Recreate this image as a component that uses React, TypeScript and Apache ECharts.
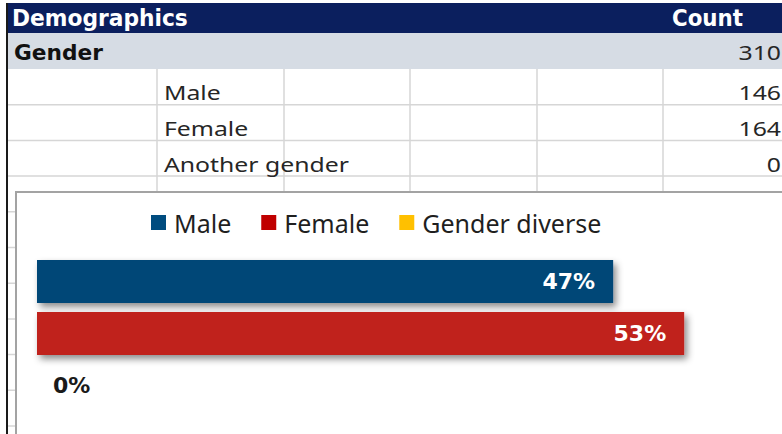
import React, { useEffect, useRef } from 'react';
import * as echarts from 'echarts';

// ---- data ----
const categories = ['Male', 'Female', 'Gender diverse'];
const tableLabels = ['Male', 'Female', 'Another gender'];
const counts = [146, 164, 0];
const headerLabels = ['Demographics', 'Count'];
const groupLabel = 'Gender';
const barColors = ['#034677', '#c0231f', '#ffc000'];
const legendColors = ['#004c7f', '#c00000', '#ffc000'];

const W = 782;
const H = 434;

function fitScale(text: string, font: string, target: number): number {
  const c = document.createElement('canvas').getContext('2d');
  if (!c) return 1;
  c.font = font;
  const w = c.measureText(text).width;
  return w > 0 ? target / w : 1;
}

export default function App() {
  const ref = useRef<HTMLDivElement>(null);

  useEffect(() => {
    if (!ref.current) return;
    const chart = echarts.init(ref.current, undefined, { renderer: 'svg' });
    const total = counts.reduce((a, b) => a + b, 0);
    const pct = counts.map((c) => (c / total) * 100);

    const headFont = 'bold 23px "DejaVu Sans"';
    const groupFont = 'bold 21px "DejaVu Sans"';
    const bodySize = 20;
    const bodyFont = bodySize + 'px "Noto Sans"';
    const bodyScale = fitScale('Another gender', bodyFont, 185);

    const rowTop = 69;
    const pitch = 35.7;
    const lineColor = '#d6d6d6';

    const g: any[] = [];
    // header
    g.push({ type: 'rect', z: -5, shape: { x: 7, y: 3, width: W - 7, height: 30 }, style: { fill: '#0b1f5e' } });
    g.push({ type: 'rect', z: -5, shape: { x: 8, y: 33, width: W - 8, height: 36 }, style: { fill: '#d6dce4' } });
    // horizontal grid lines
    for (let i = 1; i <= 10; i++) {
      const y = rowTop + pitch * i;
      g.push({ type: 'line', z: -5, shape: { x1: 8, y1: y, x2: W, y2: y }, style: { stroke: lineColor, lineWidth: 1.5 } });
    }
    // vertical grid lines
    [157, 284, 410, 537, 663].forEach((x) => {
      g.push({ type: 'line', z: -5, shape: { x1: x, y1: rowTop, x2: x, y2: 195 }, style: { stroke: lineColor, lineWidth: 1.5 } });
    });
    // left dark border
    g.push({ type: 'rect', z: -5, shape: { x: 6, y: 3, width: 2, height: H }, style: { fill: '#1a1a1a' } });
    // chart box
    g.push({ type: 'rect', z: -4, shape: { x: 16, y: 192, width: 900, height: 400 }, style: { fill: '#ffffff', stroke: '#a3a3a3', lineWidth: 2 } });

    // header texts
    g.push({
      type: 'text', z: -3, x: 12, y: 25 - 0.3 * 23,
      scaleX: fitScale(headerLabels[0], headFont, 176),
      style: { text: headerLabels[0], font: headFont, fill: '#ffffff', align: 'left', verticalAlign: 'middle' },
    });
    g.push({
      type: 'text', z: -3, x: 672, y: 25 - 0.3 * 23,
      scaleX: fitScale(headerLabels[1], headFont, 71),
      style: { text: headerLabels[1], font: headFont, fill: '#ffffff', align: 'left', verticalAlign: 'middle' },
    });
    g.push({
      type: 'text', z: -3, x: 14, y: 59 - 0.3 * 21,
      scaleX: fitScale(groupLabel, groupFont, 89),
      style: { text: groupLabel, font: groupFont, fill: '#111111', align: 'left', verticalAlign: 'middle' },
    });
    g.push({
      type: 'text', z: -3, x: 781, y: 58 - 0.3 * bodySize,
      scaleX: bodyScale,
      style: { text: String(total), font: bodyFont, fill: '#262626', align: 'right', verticalAlign: 'middle' },
    });
    tableLabels.forEach((lab, i) => {
      const base = rowTop + pitch * (i + 1) - 6;
      g.push({
        type: 'text', z: -3, x: 164, y: base - 0.3 * bodySize,
        scaleX: bodyScale,
        style: { text: lab, font: bodyFont, fill: '#262626', align: 'left', verticalAlign: 'middle' },
      });
      g.push({
        type: 'text', z: -3, x: 781, y: base - 0.3 * bodySize,
        scaleX: bodyScale,
        style: { text: String(counts[i]), font: bodyFont, fill: '#262626', align: 'right', verticalAlign: 'middle' },
      });
    });

    const series = categories.map((name, i) => ({
      name,
      type: 'bar',
      stack: 'g',
      barWidth: 43,
      data: categories.map((_, j) => (j === i ? pct[i] : '-')),
      itemStyle: {
        color: barColors[i],
        shadowBlur: 7,
        shadowColor: 'rgba(0,0,0,0.45)',
        shadowOffsetX: 3,
        shadowOffsetY: 4,
      },
      label: {
        show: true,
        position: pct[i] > 0 ? 'insideRight' : 'right',
        distance: pct[i] > 0 ? 18 : 16,
        color: pct[i] > 0 ? '#ffffff' : '#1a1a1a',
        fontFamily: 'DejaVu Sans',
        fontWeight: 'bold',
        fontSize: 22,
        formatter: (p: any) => Math.round(p.value) + '%',
      },
    }));

    chart.setOption({
      animation: false,
      graphic: { elements: g },
      legend: {
        left: 151,
        top: 210,
        padding: 0,
        itemGap: 30,
        itemWidth: 15,
        itemHeight: 15,
        icon: 'rect',
        textStyle: { fontFamily: 'Noto Sans', fontSize: 25, color: '#1f1f1f', padding: [0, 0, 0, 3] },
        data: categories.map((n, i) => ({ name: n, itemStyle: { color: legendColors[i] } })),
      },
      grid: { left: 37, top: 255.5, width: 734, height: 156, containLabel: false },
      xAxis: { type: 'value', min: 0, max: 60, show: false },
      yAxis: { type: 'category', data: categories, inverse: true, show: false },
      series,
    });
    return () => chart.dispose();
  }, []);

  return (
    <div
      ref={ref}
      style={{ position: 'fixed', left: 0, top: 0, width: W, height: H, background: '#ffffff' }}
    />
  );
}
